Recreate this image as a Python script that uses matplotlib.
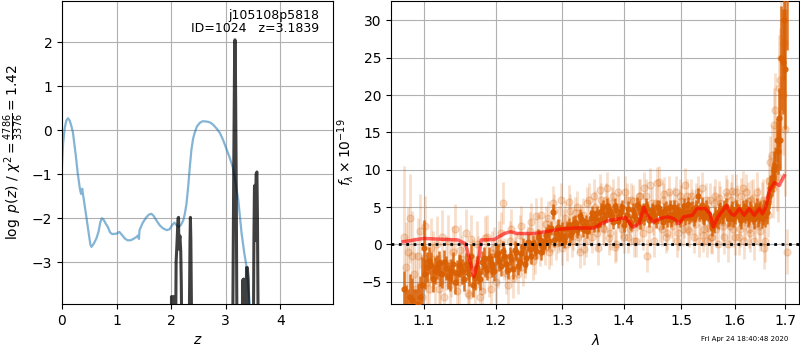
import numpy as np
import matplotlib
matplotlib.use("Agg")
import matplotlib.pyplot as plt
from matplotlib.ticker import FixedLocator, FixedFormatter, NullLocator

# ---------------- Left panel data ----------------
chi_z = [0.0, 0.02, 0.05, 0.08, 0.11, 0.14, 0.17, 0.2, 0.25, 0.29, 0.33, 0.35, 0.37, 0.39, 0.42,
         0.45, 0.49, 0.52, 0.54, 0.58, 0.63, 0.67, 0.7, 0.73, 0.76, 0.8, 0.84, 0.88, 0.92, 1.0,
         1.05, 1.1, 1.15, 1.2, 1.26, 1.32, 1.37, 1.39, 1.41, 1.42, 1.48, 1.55, 1.6, 1.64, 1.68,
         1.73, 1.79, 1.85, 1.92, 1.97, 2.02, 2.06, 2.1, 2.13, 2.18, 2.22, 2.25, 2.28, 2.31, 2.34,
         2.37, 2.40, 2.43, 2.47, 2.52, 2.57, 2.61, 2.67, 2.72, 2.77, 2.83, 2.89, 2.95, 3.01, 3.07,
         3.13, 3.18, 3.23, 3.29, 3.34, 3.38, 3.44, 3.5]
chi_v = [-0.8, -0.3, 0.05, 0.22, 0.27, 0.22, 0.1, -0.05, -0.55, -1.0, -1.35, -1.45, -1.33, -1.5, -1.75,
         -2.0, -2.35, -2.6, -2.65, -2.58, -2.46, -2.3, -2.1, -2.0, -2.03, -2.12, -2.2, -2.32, -2.36, -2.35,
         -2.31, -2.38, -2.46, -2.5, -2.5, -2.46, -2.42, -2.39, -2.47, -2.27, -2.1, -1.97, -1.91, -1.9, -1.95,
         -2.05, -2.16, -2.23, -2.27, -2.25, -2.15, -2.1, -2.16, -2.2, -2.15, -2.05, -1.9, -1.67, -1.3, -0.85,
         -0.45, -0.2, -0.06, 0.08, 0.16, 0.2, 0.2, 0.19, 0.17, 0.12, 0.04, -0.06, -0.22, -0.42, -0.62,
         -0.85, -1.2, -1.6, -2.35, -2.8, -3.1, -3.95, -4.6]

pz_z = [0.0, 2.0, 2.005, 2.055, 2.06, 2.075, 2.09, 2.105, 2.125, 2.135, 2.14, 2.15, 2.16, 2.175, 2.185,
        2.205, 2.32, 2.345, 2.352, 2.36, 2.385, 3.12, 3.145, 3.16, 3.168, 3.176, 3.19, 3.21, 3.29,
        3.31, 3.32, 3.33, 3.345, 3.36, 3.38, 3.395, 3.41, 3.43, 3.50, 3.515, 3.525, 3.535, 3.545,
        3.555, 3.57, 3.58, 3.60, 5.0]
pz_v = [-6, -6, -3.78, -3.78, -6, -6, -3.0, -2.6, -2.0, -1.98, -2.7, -2.5, -2.4, -2.75, -3.5,
        -6, -6, -2.5, -1.98, -2.5, -6, -6, -1.0, 1.5, 2.05, 1.5, -1.0, -6, -6,
        -3.4, -3.7, -3.38, -6, -6, -3.12, -3.12, -3.4, -6, -6, -2.5, -1.3, -1.25, -2.5,
        -1.0, -0.95, -2.0, -6, -6]

# ---------------- Right panel data ----------------
wave = [1.075, 1.080, 1.085, 1.090, 1.095, 1.100, 1.105, 1.110, 1.115, 1.120, 1.125, 1.130, 1.135,
        1.140, 1.145, 1.150, 1.155, 1.160, 1.165, 1.170, 1.175, 1.180, 1.185, 1.190, 1.195, 1.200,
        1.205, 1.210, 1.215, 1.220, 1.225, 1.230, 1.235, 1.240, 1.245, 1.250, 1.255, 1.260, 1.265,
        1.270, 1.275, 1.280, 1.285, 1.290, 1.295, 1.300, 1.305, 1.310, 1.315, 1.320, 1.325, 1.330,
        1.335, 1.340, 1.345, 1.350, 1.355, 1.360, 1.365, 1.370, 1.375, 1.380, 1.385, 1.390, 1.395,
        1.400, 1.405, 1.410, 1.415, 1.420, 1.425, 1.430, 1.435, 1.440, 1.445, 1.450, 1.455, 1.460,
        1.465, 1.470, 1.475, 1.480, 1.485, 1.490, 1.495, 1.500, 1.505, 1.510, 1.515, 1.520, 1.525,
        1.530, 1.535, 1.540, 1.545, 1.550, 1.555, 1.560, 1.565, 1.570, 1.575, 1.580, 1.585, 1.590,
        1.595, 1.600, 1.605, 1.610, 1.615, 1.620, 1.625, 1.630, 1.635, 1.640, 1.645, 1.650, 1.655,
        1.660, 1.665, 1.670, 1.675, 1.680, 1.685, 1.690, 1.695, 1.700, 1.703]

flux_dark = [-6.0, -9.0, -7.5, -9.0, -7.0, -0.5, -3.0, -2.8, -3.5, -2.5, -4.0, -3.2, -4.5,
             -2.6, -3.8, -2.9, -4.6, -3.3, -1.5, -4.5, -3.8, -2.4, -3.0, -1.8, -2.9, -1.4,
             -2.2, -0.9, -2.6, -1.5, -3.3, -1.0, -2.4, -0.3, -1.8, -0.6, 0.2, -0.9, 0.6,
             -0.2, 1.2, 0.5, 4.4, 1.5, 0.8, 2.0, 1.0, 2.6, 1.6, 3.0, 2.2, 3.4,
             2.5, 1.8, 3.6, 2.7, 4.2, 3.3, 5.0, 4.0, 4.6, 3.9, 5.2, 3.2, 4.5,
             2.6, 4.0, 3.0, 4.6, 3.4, 5.0, 4.2, 3.6, 4.8, 3.9, 4.4, 3.2, 4.9,
             3.8, 4.5, 3.4, 5.0, 4.1, 3.6, 4.6, 3.9, 5.2, 4.3, 3.7, 4.8, 4.0,
             6.5, 4.4, 3.8, 4.9, 4.1, 3.0, 2.6, 3.5, 4.4, 3.8, 4.9, 4.2, 3.6,
             4.7, 3.9, 4.5, 3.7, 4.8, 4.1, 3.6, 4.6, 4.0, 4.4, 3.7, 4.5, 4.0,
             3.8, 5.5, 7.5, 9.0, 10.5, 12.5, 14.0, 24.5, 23.5, 38.0]
err_dark = [2.5, 3.0, 3.0, 3.0, 2.8, 3.8, 2.0, 1.8, 1.8, 1.6, 1.8, 1.6, 1.8,
            1.6, 1.7, 1.5, 1.7, 1.5, 1.6, 1.6, 1.5, 1.5, 1.4, 1.4, 1.4, 1.3,
            1.3, 1.3, 1.3, 1.2, 1.3, 1.2, 1.2, 1.2, 1.2, 1.1, 1.1, 1.1, 1.1,
            1.1, 1.1, 1.0, 1.0, 1.0, 1.0, 1.0, 1.0, 1.0, 1.0, 1.0, 1.0, 1.0,
            1.0, 1.0, 1.0, 1.0, 1.0, 1.0, 1.0, 1.0, 1.0, 1.0, 1.0, 1.0, 1.0,
            1.0, 1.0, 1.0, 1.0, 1.0, 1.0, 1.0, 1.0, 1.0, 1.0, 1.0, 1.0, 1.0,
            1.0, 1.0, 1.0, 1.0, 1.0, 1.0, 1.0, 1.0, 1.0, 1.0, 1.0, 1.0, 1.0,
            1.0, 1.0, 1.0, 1.0, 1.0, 1.0, 1.1, 1.1, 1.1, 1.1, 1.1, 1.1, 1.1,
            1.1, 1.1, 1.1, 1.2, 1.2, 1.2, 1.2, 1.2, 1.2, 1.3, 1.3, 1.3, 1.4,
            1.4, 1.6, 1.8, 2.0, 2.5, 3.0, 4.0, 7.0, 8.0, 12.0]

flux_light = [1.0, -1.0, -1.5, -6.0, 1.8, -1.8, -5.0, -0.5, -4.2, -6.0, 1.0, -2.5, -5.5,
              -1.0, -6.3, -0.8, -3.0, -6.5, 0.7, -5.5, -2.0, -6.2, 0.8, -4.0, -1.2, -5.0,
              0.2, 5.5, -3.8, 0.5, -4.5, -1.6, 1.3, -3.0, -0.8, 1.8, -2.2, 3.8, -0.5,
              0.9, 2.8, -1.0, 5.5, 0.2, 2.9, -0.5, 3.6, 5.7, 0.5, 4.2, 1.0, 3.2,
              -0.6, 5.5, 2.0, 6.5, 1.5, 7.3, 2.2, 6.0, 0.8, 5.5, -0.3, 7.0, 3.0,
              1.0, 6.0, 2.0, 5.8, 0.5, 6.5, 2.5, 7.5, -1.5, 8.0, 3.5, 5.5, 8.3,
              2.0, 6.8, 1.5, 5.0, 2.5, 7.0, 1.5, 5.8, 3.0, 6.5, 1.8, 5.2, 2.8,
              7.0, 3.5, 1.2, 6.0, 2.2, 1.0, 5.5, 2.0, 6.2, 3.0, 1.0, 6.5, 2.5,
              7.2, 1.0, 5.5, 2.0, 7.5, 3.0, 5.8, 1.5, 6.2, 2.8, 5.0, 1.8, 6.0,
              0.5, 4.0, 11.0, 7.5, 18.0, 9.0, 22.0, 20.0, 15.5, -1.0]
err_light = [9.5, 6.0, 6.0, 5.0, 5.0, 4.5, 4.0, 4.0, 3.8, 3.8, 3.6, 3.6, 3.5,
             3.5, 3.4, 3.4, 3.3, 3.3, 3.2, 3.2, 3.1, 3.1, 3.0, 3.0, 3.0, 2.9,
             2.9, 2.8, 2.8, 2.7, 2.7, 2.6, 2.6, 2.6, 2.5, 2.5, 2.5, 2.4, 2.4,
             2.4, 2.3, 2.3, 2.3, 2.3, 2.2, 2.2, 2.2, 2.2, 2.2, 2.2, 2.2, 2.2,
             2.2, 2.2, 2.2, 2.2, 2.2, 2.2, 2.2, 2.2, 2.2, 2.2, 2.2, 2.2, 2.2,
             2.2, 2.2, 2.2, 2.2, 2.2, 2.2, 2.2, 2.2, 2.2, 2.2, 2.2, 2.2, 2.2,
             2.2, 2.2, 2.2, 2.2, 2.2, 2.2, 2.2, 2.2, 2.2, 2.2, 2.2, 2.2, 2.2,
             2.2, 2.2, 2.2, 2.2, 2.2, 2.2, 2.3, 2.3, 2.3, 2.3, 2.3, 2.3, 2.3,
             2.3, 2.4, 2.4, 2.4, 2.4, 2.5, 2.5, 2.5, 2.6, 2.6, 2.7, 2.7, 2.8,
             2.8, 3.0, 3.5, 4.0, 5.0, 6.0, 7.0, 8.0, 9.0, 3.0]

# second beam (interleaved pixels)
wave_b = [1.0775, 1.0825, 1.0875, 1.0925, 1.0975, 1.1025, 1.1075, 1.1125, 1.1175, 1.1225,
          1.1275, 1.1325, 1.1375, 1.1425, 1.1475, 1.1525, 1.1575, 1.1625, 1.1675, 1.1725,
          1.1775, 1.1825, 1.1875, 1.1925, 1.1975, 1.2025, 1.2075, 1.2125, 1.2175, 1.2225,
          1.2275, 1.2325, 1.2375, 1.2425, 1.2475, 1.2525, 1.2575, 1.2625, 1.2675, 1.2725,
          1.2775, 1.2825, 1.2875, 1.2925, 1.2975, 1.3025, 1.3075, 1.3125, 1.3175, 1.3225,
          1.3275, 1.3325, 1.3375, 1.3425, 1.3475, 1.3525, 1.3575, 1.3625, 1.3675, 1.3725,
          1.3775, 1.3825, 1.3875, 1.3925, 1.3975, 1.4025, 1.4075, 1.4125, 1.4175, 1.4225,
          1.4275, 1.4325, 1.4375, 1.4425, 1.4475, 1.4525, 1.4575, 1.4625, 1.4675, 1.4725,
          1.4775, 1.4825, 1.4875, 1.4925, 1.4975, 1.5025, 1.5075, 1.5125, 1.5175, 1.5225,
          1.5275, 1.5325, 1.5375, 1.5425, 1.5475, 1.5525, 1.5575, 1.5625, 1.5675, 1.5725,
          1.5775, 1.5825, 1.5875, 1.5925, 1.5975, 1.6025, 1.6075, 1.6125, 1.6175, 1.6225,
          1.6275, 1.6325, 1.6375, 1.6425, 1.6475, 1.6525, 1.6575, 1.6625, 1.6675, 1.6725,
          1.6775, 1.6825, 1.6875, 1.6925, 1.6975]
flux_dark_b = [-8.5, -7.0, -9.0, -8.0, -5.5, -4.0, -2.2, -4.6, -3.0, -3.8,
               -2.4, -4.2, -3.5, -5.0, -2.8, -3.6, -2.6, -4.0, -5.5, -3.0,
               -4.6, -1.8, -3.4, -2.5, -3.6, -1.2, -2.9, -1.6, -3.4, -2.0,
               -0.8, -2.9, -1.2, -2.6, 0.3, -1.5, -0.4, 1.0, -1.0, 0.3,
               1.8, 2.2, 0.6, 2.4, 1.3, 0.5, 2.2, 1.2, 2.8, 1.9,
               3.8, 2.0, 3.0, 2.4, 4.2, 3.5, 2.6, 4.5, 3.6, 5.2,
               4.2, 3.0, 4.6, 3.8, 5.0, 3.3, 4.8, 2.8, 3.9, 5.3,
               3.1, 4.5, 5.2, 3.3, 4.6, 3.8, 5.0, 4.2, 3.0, 4.8,
               4.0, 3.3, 5.0, 4.3, 3.4, 4.5, 3.6, 5.4, 4.0, 3.5,
               5.0, 4.2, 5.3, 3.6, 4.4, 3.4, 2.2, 3.9, 3.2, 4.6,
               4.0, 5.1, 3.5, 4.3, 3.4, 4.8, 4.2, 3.3, 4.4, 4.9,
               3.8, 4.2, 3.4, 4.9, 4.2, 3.6, 4.6, 4.4, 6.5, 8.5,
               10.0, 14.0, 17.0, 25.0, 30.0]
flux_light_b = [-3.0, 3.5, -4.0, -1.5, -7.0, 2.5, -6.0, -2.0, 0.0, -5.0,
                -7.0, 0.5, -3.5, 2.0, -5.0, -2.0, 1.5, -6.8, -2.5, 0.0,
                -7.0, -3.5, 1.0, -6.0, -0.5, -3.0, 1.5, -2.0, -5.5, 2.0,
                -1.0, -4.0, 2.5, -2.0, 0.0, 3.0, -1.5, 1.5, 4.0, -0.5,
                3.5, -0.5, 4.5, 1.0, 6.0, 2.5, 0.0, 4.5, 1.5, 5.0,
                -1.0, 4.0, 0.5, 6.0, 1.0, 5.0, -0.5, 6.0, 2.0, 7.5,
                1.5, 6.5, 0.0, 5.0, 2.0, 7.0, 1.0, 6.0, 0.5, 4.0,
                6.5, 1.5, 6.5, 2.0, 5.5, 0.5, 8.2, 2.5, 6.0, 1.0,
                7.0, 3.0, 5.5, 0.5, 6.5, 2.0, 8.0, 2.0, 6.5, 1.0,
                6.0, 0.5, 7.5, 2.0, 0.5, 6.0, 1.0, 6.5, 0.0, 5.5,
                2.5, 7.0, 0.0, 6.0, 2.0, 7.0, 1.0, 6.5, 0.5, 7.0,
                2.0, 6.0, 0.5, 7.0, 2.5, 5.5, -0.5, 6.0, 8.5, 12.0,
                16.0, 10.5, 21.0, 25.0, 27.0]

model_wave = [1.073, 1.100, 1.146, 1.157, 1.169, 1.176, 1.179, 1.198, 1.212, 1.222, 1.231, 1.258,
              1.274, 1.301, 1.323, 1.351, 1.363, 1.375, 1.391, 1.403, 1.415, 1.426, 1.434, 1.440,
              1.451, 1.462, 1.476, 1.487, 1.496, 1.505, 1.520, 1.529, 1.544, 1.553, 1.559, 1.568,
              1.584, 1.593, 1.599, 1.609, 1.618, 1.628, 1.638, 1.648, 1.654, 1.661, 1.668, 1.678,
              1.688, 1.698]
model_flux = [0.35, 0.8, 0.6, 0.1, -4.3, -1.6, 0.6, 0.66, 1.46, 1.7, 1.46, 1.46,
              1.7, 2.1, 2.2, 2.2, 2.8, 3.2, 3.4, 3.6, 2.3, 2.8, 5.0, 3.9,
              3.0, 3.45, 3.7, 3.45, 2.8, 3.7, 3.9, 4.8, 4.8, 4.1, 2.35, 3.7,
              5.2, 4.1, 3.9, 4.8, 3.9, 4.8, 3.9, 4.8, 4.1, 5.0, 7.2, 8.3,
              7.9, 9.2]

x_ticks = [1.1, 1.2, 1.3, 1.4, 1.5, 1.6, 1.7]
y_ticks_right = [-5, 0, 5, 10, 15, 20, 25, 30]

title_text = "j105108p5818\nID=1024   z=3.1839"
stamp = "Fri Apr 24 18:40:48 2020"

orange = "#d95f02"

fig = plt.figure(figsize=(8, 3.5), dpi=100)
ax1 = fig.add_axes([0.0775, 0.131, 0.3385, 0.866])
ax2 = fig.add_axes([0.489, 0.131, 0.510, 0.866])

# Left panel
ax1.plot(chi_z, chi_v, color="tab:blue", alpha=0.55, lw=1.6)
ax1.plot(pz_z, pz_v, color="k", alpha=0.75, lw=2.2)
ax1.set_xlim(0, 4.96)
ax1.set_ylim(-3.95, 2.93)
ax1.set_xticks([0, 1, 2, 3, 4])
ax1.set_yticks([-3, -2, -1, 0, 1, 2])
ax1.grid(True)
ax1.set_xlabel(r"$z$")
ax1.set_ylabel(r"$\log\ p(z)$ / $\chi^2=\frac{4786}{3376}=1.42$")
ax1.text(0.95, 0.975, title_text, transform=ax1.transAxes, ha="right", va="top",
         fontsize=9, linespacing=1.0)

# Right panel
err_light_b = err_light[1:len(wave_b) + 1]
err_dark_b = err_dark[1:len(wave_b) + 1]
for w, f, e in ((wave, flux_light, err_light), (wave_b, flux_light_b, err_light_b)):
    ax2.errorbar(w, f, yerr=e, fmt="o", color=orange, alpha=0.2,
                 ms=5, elinewidth=2, capsize=0, zorder=3)
for w, f, e in ((wave, flux_dark, err_dark), (wave_b, flux_dark_b, err_dark_b)):
    ax2.errorbar(w, f, yerr=e, fmt="o", color=orange, alpha=0.85,
                 ms=3.5, elinewidth=1.8, capsize=0, zorder=4)
ax2.plot(model_wave, model_flux, color="red", alpha=0.6, lw=2.5, zorder=5)
ax2.set_xscale("log")
ax2.set_xlim(1.058, 1.729)
ax2.plot([1.058, 1.729], [0, 0], color="k", ls=":", lw=2, zorder=6)
ax2.set_ylim(-8, 32.6)
ax2.xaxis.set_major_locator(FixedLocator(x_ticks))
ax2.xaxis.set_major_formatter(FixedFormatter([f"{v:.1f}" for v in x_ticks]))
ax2.xaxis.set_minor_locator(NullLocator())
ax2.set_yticks(y_ticks_right)
ax2.grid(True)
ax2.set_xlabel(r"$\lambda$")
ax2.set_ylabel(r"$f_\lambda\times 10^{-19}$")

fig.text(0.985, 0.031, stamp, ha="right", va="center", fontsize=5)

fig.savefig("out.png", dpi=100)
